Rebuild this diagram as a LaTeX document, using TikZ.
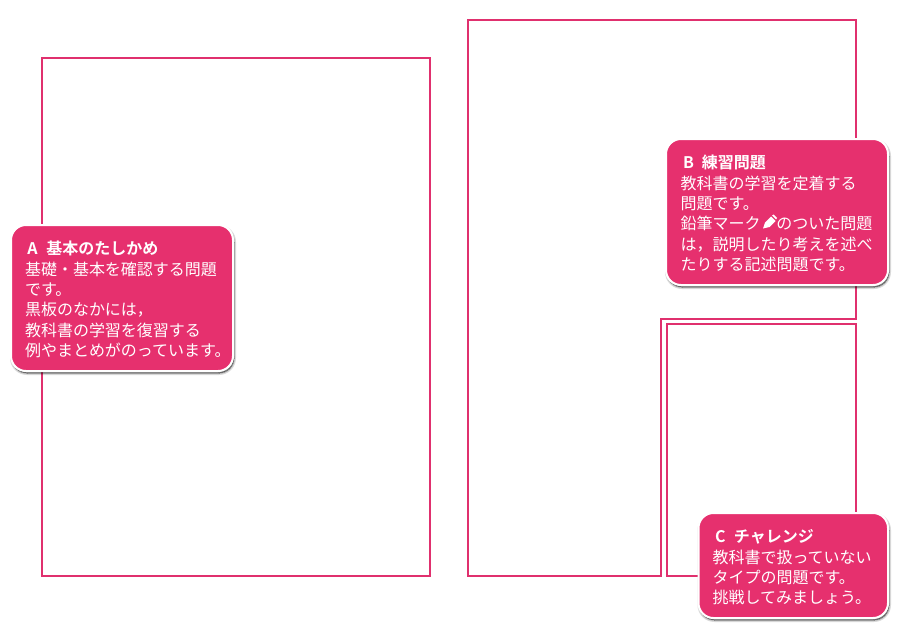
\documentclass[tikz,border=0pt]{standalone}
\usepackage{fontspec}
\setmainfont{Noto Sans CJK JP}[BoldFont={Noto Sans CJK JP Bold}]
\usetikzlibrary{shadows}
\definecolor{pagepink}{HTML}{E0306E}
\definecolor{calloutpink}{HTML}{E6306E}
\newcommand{\calloutfont}{\fontsize{16pt}{20.3pt}\selectfont}
\newcommand{\callouthead}[2]{\rule{0pt}{16.6pt}\hspace*{2.5pt}\makebox[19pt][l]{\bfseries #1}{\bfseries #2}}
\begin{document}
\begin{tikzpicture}
            [x=1pt, y=-1pt,
            frame/.style={pagepink, line width=1.6pt},
            softshadow/.style={drop shadow={shadow xshift=1pt, shadow yshift=-2pt, opacity=0.14, fill=black, draw=black, line width=#1}},
            callout/.style={anchor=north west, rectangle, rounded corners=15pt, fill=calloutpink,
              draw=white, line width=2pt, text=white, font=\calloutfont,
              inner sep=0pt, outer sep=0pt,
              execute at begin node={\parindent=0pt\rightskip=0pt plus 1fil},
              softshadow=0pt, softshadow=2pt, softshadow=4pt},
            pencil/.style={fill=white, draw=none}]

            \useasboundingbox (0,0) rectangle (900,630);

            % page frames
            \draw[frame] (42,58) rectangle (430,576);
            \draw[frame] (468,20) -- (856,20) -- (856,319) -- (661,319) -- (661,576) -- (468,576) -- cycle;
            \draw[frame] (667,324) -- (856,324) -- (856,576) -- (667,576) -- cycle;

            % callouts
            \node[callout, minimum height=146pt, text width=222pt] (a) at (11,225)
              {\leftskip=14pt
               \callouthead{A}{基本のたしかめ}\\
               基礎・基本を確認する問題\\
               です。\\
               黒板のなかには，\\
               教科書の学習を復習する\\
               例やまとめがのっています。\par};
            \node[callout, minimum height=146pt, text width=222pt] (b) at (666,139)
              {\leftskip=14.5pt
               \callouthead{B}{練習問題}\\
               教科書の学習を定着する\\
               問題です。\\
               鉛筆マーク\hspace{16pt}のついた問題\\
               は，説明したり考えを述べ\\
               たりする記述問題です。\par};
            \node[callout, minimum height=105pt, text width=189.5pt] (c) at (698.5,513)
              {\leftskip=14pt
               \callouthead{C}{チャレンジ}\\
               教科書で扱っていない\\
               タイプの問題です。\\
               挑戦してみましょう。\par};

            % pencil mark
            \fill[pencil] (763,228.5) -- (765,222.5) -- (771,216.5) -- (775.5,221) -- (769.5,227) -- cycle;
            \fill[pencil] (772,215.5) -- (773.5,214.5) -- (777,218) -- (776,219.5) -- cycle;

        \end{tikzpicture}
\end{document}
